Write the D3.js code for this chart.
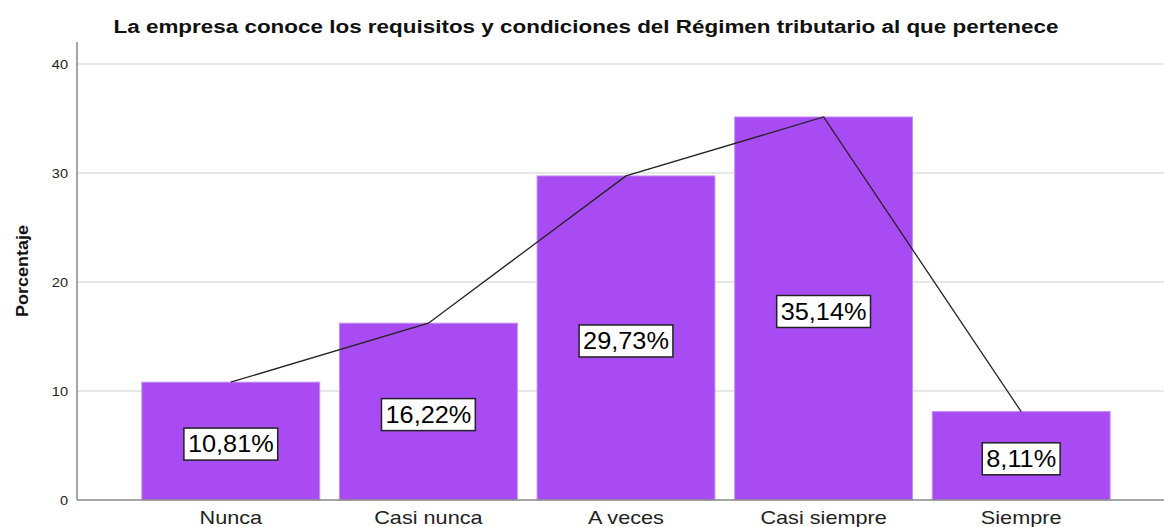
<!DOCTYPE html>
<html>
<head>
<meta charset="utf-8">
<script src="https://cdn.jsdelivr.net/npm/d3@7"></script>
<style>
  body { margin: 0; background: #fff; }
  svg { display: block; font-family: "Liberation Sans", Arial, sans-serif; }
</style>
</head>
<body>
<div id="chart"></div>
<script>
// categories and percentages
const categories = ['Nunca', 'Casi nunca', 'A veces', 'Casi siempre', 'Siempre'];
const percentages = [10.81, 16.22, 29.73, 35.14, 8.11];
const yTicks = [0, 10, 20, 30, 40];

const width = 1164;
const height = 527;

const svg = d3.select('#chart')
  .append('svg')
  .attr('width', width)
  .attr('height', height);

// widen a text a bit, the original font runs wider than Liberation Sans
function stretch(sel, factor) {
  sel.each(function() {
    const len = this.getComputedTextLength();
    d3.select(this).attr('textLength', len * factor).attr('lengthAdjust', 'spacingAndGlyphs');
  });
}

const x = d3.scaleBand()
  .domain(categories)
  .range([132, 1120])
  .paddingInner(0.1)
  .paddingOuter(0.05);

const y = d3.scaleLinear()
  .domain([0, 40])
  .range([500, 64]);

// gridlines
svg.append('g')
  .selectAll('line')
  .data(yTicks.filter(d => d > 0))
  .join('line')
  .attr('x1', 77)
  .attr('x2', width)
  .attr('y1', d => y(d))
  .attr('y2', d => y(d))
  .attr('stroke', '#d0d0d0')
  .attr('stroke-width', 1.2);

// y axis
const yAxis = svg.append('g')
  .attr('transform', 'translate(77,0)')
  .call(d3.axisLeft(y).tickValues(yTicks).tickSize(0).tickPadding(9));
yAxis.select('.domain').attr('stroke', '#888').attr('stroke-width', 1.5)
  .attr('d', 'M0,' + (y(40) - 22) + 'V' + y(0));
yAxis.selectAll('text').attr('font-size', 13).attr('fill', '#222')
  .attr('font-family', '"Liberation Sans", Arial, sans-serif');
stretch(yAxis.selectAll('text'), 1.12);

// bars
svg.append('g')
  .selectAll('rect')
  .data(percentages)
  .join('rect')
  .attr('x', (d, i) => x(categories[i]))
  .attr('width', x.bandwidth())
  .attr('y', d => y(d))
  .attr('height', d => y(0) - y(d))
  .attr('fill', '#a94bf2')
  .attr('stroke', '#c48cf5')
  .attr('stroke-width', 1);

// x axis baseline
svg.append('line')
  .attr('x1', 77).attr('x2', width)
  .attr('y1', y(0)).attr('y2', y(0))
  .attr('stroke', '#888').attr('stroke-width', 1.5);

// line through bar tops
const line = d3.line()
  .x((d, i) => x(categories[i]) + x.bandwidth() / 2)
  .y(d => y(d));
svg.append('path')
  .datum(percentages)
  .attr('d', line)
  .attr('fill', 'none')
  .attr('stroke', '#222')
  .attr('stroke-width', 1.3);

// labels in boxes
const labels = svg.append('g')
  .selectAll('g')
  .data(percentages)
  .join('g')
  .attr('transform', (d, i) => 'translate(' + (x(categories[i]) + x.bandwidth() / 2) + ',' + ((y(d) + y(0)) / 2 + 3) + ')');
labels.append('text')
  .attr('text-anchor', 'middle')
  .attr('dy', '0.36em')
  .attr('font-size', 23)
  .attr('fill', '#000')
  .text(d => d.toFixed(2).replace('.', ',') + '%');
stretch(labels.selectAll('text'), 1.1);
labels.each(function() {
  const g = d3.select(this);
  const w = +g.select('text').attr('textLength');
  g.insert('rect', 'text')
    .attr('x', -w / 2 - 4)
    .attr('y', -16)
    .attr('width', w + 8)
    .attr('height', 32)
    .attr('fill', '#fff')
    .attr('stroke', '#222')
    .attr('stroke-width', 1.5);
});

// x category labels
const xLabels = svg.append('g')
  .selectAll('text')
  .data(categories)
  .join('text')
  .attr('x', d => x(d) + x.bandwidth() / 2)
  .attr('y', 524)
  .attr('text-anchor', 'middle')
  .attr('font-size', 19)
  .attr('fill', '#222')
  .text(d => d);
stretch(xLabels, 1.14);

// y axis title
svg.append('text')
  .attr('transform', 'translate(28,271) rotate(-90)')
  .attr('text-anchor', 'middle')
  .attr('font-size', 17)
  .attr('font-weight', 'bold')
  .attr('fill', '#111')
  .attr('textLength', 92)
  .attr('lengthAdjust', 'spacingAndGlyphs')
  .text('Porcentaje');

// title
svg.append('text')
  .attr('x', 586)
  .attr('y', 33)
  .attr('text-anchor', 'middle')
  .attr('font-size', 18)
  .attr('font-weight', 'bold')
  .attr('fill', '#111')
  .attr('textLength', 945)
  .attr('lengthAdjust', 'spacingAndGlyphs')
  .text('La empresa conoce los requisitos y condiciones del Régimen tributario al que pertenece');
</script>
</body>
</html>
